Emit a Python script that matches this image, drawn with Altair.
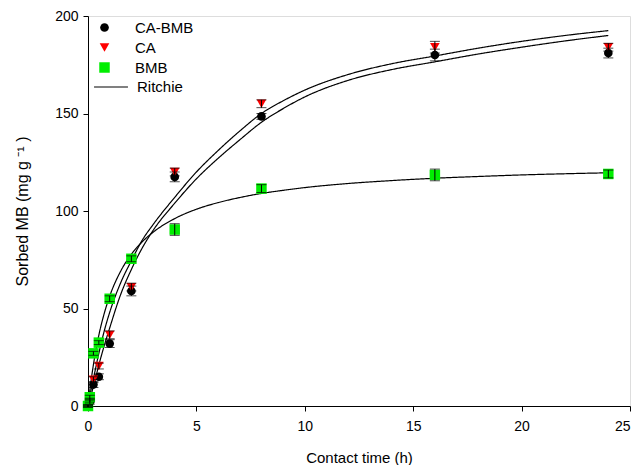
import altair as alt
import pandas as pd

# observed data
t_obs = [0, 0.083, 0.25, 0.5, 1, 2, 4, 8, 16, 24]
ca_bmb = [0, 2, 11, 15, 32, 59, 117.5, 148.5, 180, 181]
ca = [0, 3, 13.5, 20.5, 36.5, 61, 120, 155, 184, 184]
bmb = [0, 4.5, 27, 32.5, 55, 75.5, 90.5, 111.5, 118.5, 119]
err_ca_bmb = [0.5, 1, 1.5, 1.5, 2, 2.5, 2.5, 1.5, 3, 2.5]
err_ca = [0.5, 1, 1.5, 1.5, 2, 2, 2, 2, 3, 2]
err_bmb = [0.5, 1, 1, 1, 1.5, 1.5, 3, 2, 3, 2]

# Ritchie fitted curves
t_fit = [0, 0.1, 0.25, 0.5, 0.75, 1, 1.5, 2, 2.5, 3, 4, 5, 6, 7, 8, 9, 10, 12, 14, 16, 18, 20, 22, 24]
fit_ca = [0, 6, 14, 27, 38.5, 48, 63, 74.5, 85, 93, 107, 120, 131, 141, 150, 156.5, 162, 170, 175.5, 179.5, 183.5, 187, 190, 192.5]
fit_ca_bmb = [0, 4, 10, 21, 31, 40, 57, 70, 81, 90, 104, 116.5, 127, 136.5, 145.5, 152.5, 158.5, 167, 172.5, 176.5, 180.5, 184, 187.2, 190]
fit_bmb = [0, 9.4, 21.2, 36.3, 47.5, 56.3, 69, 77.8, 84.2, 89.1, 96.1, 100.9, 104.3, 106.9, 109, 110.6, 112, 114.1, 115.6, 116.8, 117.7, 118.5, 119.1, 119.6]

series_names = ["CA-BMB", "CA", "BMB"]
series_colors = ["#000000", "#ff0000", "#00ee00"]
series_shapes = ["circle", "triangle-down", "square"]
series_sizes = [75, 110, 80]

rows = []
for name, vals, errs in [("CA-BMB", ca_bmb, err_ca_bmb), ("CA", ca, err_ca), ("BMB", bmb, err_bmb)]:
    for t, v, e in zip(t_obs, vals, errs):
        rows.append({"t": t, "q": v, "lo": v - e, "hi": v + e, "series": name})
obs = pd.DataFrame(rows)

frows = []
for name, vals in [("CA-BMB", fit_ca_bmb), ("CA", fit_ca), ("BMB", fit_bmb)]:
    for t, v in zip(t_fit, vals):
        frows.append({"t": t, "q": v, "curve": name, "fit": "Ritchie"})
fit = pd.DataFrame(frows)

FONT = "Liberation Sans"

xscale = alt.Scale(domain=[0, 25], nice=False)
yscale = alt.Scale(domain=[0, 200], nice=False)

xaxis = alt.Axis(values=[0, 5, 10, 15, 20, 25], title="Contact time (h)", grid=False,
                 tickSize=5, labelPadding=8, titlePadding=17, domainColor="black",
                 tickColor="black", labelColor="black", titleColor="black",
                 labelFontSize=14, titleFontSize=15, labelFont=FONT, titleFont=FONT,
                 titleFontWeight="normal", labelFlush=False,
                 labelAlign=alt.expr("datum.value === 25 ? 'right' : 'center'"))
yaxis = alt.Axis(values=[0, 50, 100, 150, 200], title="Sorbed MB (mg g ⁻¹ )", grid=False,
                 tickSize=5, labelPadding=5, titlePadding=24, domainColor="black",
                 tickColor="black", labelColor="black", titleColor="black",
                 labelFontSize=14, titleFontSize=16, labelFont=FONT, titleFont=FONT,
                 titleFontWeight="normal", labelFlush=False)

legend_common = dict(title=None, orient="none", legendX=9, legendY=4,
                     labelFontSize=15, labelFont=FONT, labelOffset=23,
                     labelColor="black", symbolSize=65, rowPadding=4,
                     padding=0, symbolOpacity=1, symbolStrokeWidth=0)

lines = alt.Chart(fit).mark_line(color="black", strokeWidth=1.2, interpolate="monotone").encode(
    x=alt.X("t:Q", scale=xscale, axis=xaxis),
    y=alt.Y("q:Q", scale=yscale, axis=yaxis),
    detail="curve:N",
    strokeDash=alt.StrokeDash("fit:N", scale=alt.Scale(domain=["Ritchie"], range=[[1, 0]]),
                              legend=alt.Legend(title=None, orient="none", legendX=5, legendY=53,
                                                symbolType="stroke", symbolSize=1150,
                                                symbolStrokeColor="black", symbolStrokeWidth=1.2,
                                                labelFontSize=15, labelFont=FONT, labelOffset=8,
                                                labelColor="black", padding=0)),
)

points = alt.Chart(obs).mark_point(filled=True, opacity=1).encode(
    x=alt.X("t:Q", scale=xscale),
    y=alt.Y("q:Q", scale=yscale),
    color=alt.Color("series:N", scale=alt.Scale(domain=series_names, range=series_colors),
                    legend=alt.Legend(**legend_common)),
    shape=alt.Shape("series:N", scale=alt.Scale(domain=series_names, range=series_shapes),
                    legend=alt.Legend(**legend_common)),
    size=alt.Size("series:N", scale=alt.Scale(domain=series_names, range=series_sizes), legend=None),
)

bars = alt.Chart(obs).mark_rule(color="black", strokeWidth=1).encode(
    x=alt.X("t:Q", scale=xscale),
    y=alt.Y("lo:Q", scale=yscale),
    y2="hi:Q",
)
cap_lo = alt.Chart(obs).mark_tick(color="black", thickness=1, size=10, orient="horizontal").encode(
    x=alt.X("t:Q", scale=xscale),
    y=alt.Y("lo:Q", scale=yscale),
)
cap_hi = alt.Chart(obs).mark_tick(color="black", thickness=1, size=10, orient="horizontal").encode(
    x=alt.X("t:Q", scale=xscale),
    y=alt.Y("hi:Q", scale=yscale),
)

chart = alt.layer(lines, points, bars, cap_lo, cap_hi).properties(
    width=542, height=390,
    autosize=alt.AutoSizeParams(type="none"),
    padding={"left": 80, "top": 8, "right": 2, "bottom": 59},
).configure_view(stroke="black", strokeWidth=1).configure(background="white")

chart.save("out.html", embed_options={"renderer": "svg", "actions": False})
